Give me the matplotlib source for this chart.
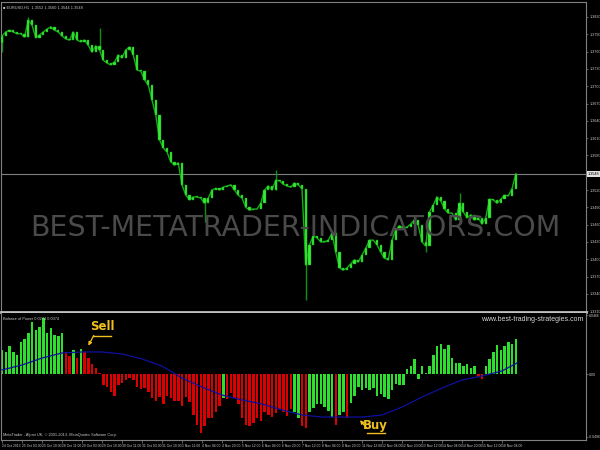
import numpy as np
import matplotlib
matplotlib.use("Agg")
import matplotlib.pyplot as plt
import matplotlib.transforms as mtransforms

# EURUSD H1, sampled every 3 hours (close of each block)
close = [
    1.3787, 1.3794, 1.3797, 1.3794, 1.3791, 1.3791, 1.3785, 1.3815, 1.3806, 1.3784,
    1.3789, 1.3794, 1.3799, 1.3803, 1.3797, 1.3794, 1.3787, 1.3782, 1.3780, 1.3794,
    1.3780, 1.3777, 1.3780, 1.3771, 1.3759, 1.3770, 1.3763, 1.3745, 1.3740, 1.3737,
    1.3742, 1.3754, 1.3749, 1.3763, 1.3768, 1.3754, 1.3728, 1.3726, 1.3711, 1.3702,
    1.3676, 1.3650, 1.3607, 1.3593, 1.3586, 1.3569, 1.3563, 1.3567, 1.3529, 1.3511,
    1.3503, 1.3508, 1.3508, 1.3506, 1.3497, 1.3506, 1.3520, 1.3523, 1.3520, 1.3525,
    1.3527, 1.3529, 1.3520, 1.3511, 1.3506, 1.3490, 1.3485, 1.3487, 1.3487, 1.3497,
    1.3520, 1.3527, 1.3520, 1.3537, 1.3536, 1.3530, 1.3527, 1.3525, 1.3532, 1.3529,
    1.3522, 1.3390, 1.3425, 1.3440, 1.3437, 1.3430, 1.3430, 1.3433, 1.3445, 1.3412,
    1.3385, 1.3381, 1.3385, 1.3392, 1.3399, 1.3395, 1.3407, 1.3419, 1.3433, 1.3433,
    1.3425, 1.3412, 1.3402, 1.3399, 1.3433, 1.3451, 1.3458, 1.3454, 1.3456, 1.3461,
    1.3468, 1.3459, 1.3430, 1.3423, 1.3482, 1.3494, 1.3508, 1.3501, 1.3487, 1.3480,
    1.3480, 1.3468, 1.3497, 1.3482, 1.3472, 1.3477, 1.3468, 1.3472, 1.3461, 1.3472,
    1.3504, 1.3503, 1.3497, 1.3504, 1.3511, 1.3510, 1.3522, 1.3548,
]
first_open = 1.3775
# long wicks (block index -> price)
wick_high = {7: 1.3820, 26: 1.3801, 73: 1.3555, 122: 1.3515}
wick_low = {0: 1.3759, 54: 1.3464, 81: 1.3329, 113: 1.3412}

# Balance of Power histogram, same 3-hour blocks
bop = [
    0.019, 0.017, 0.022, 0.017, 0.015, 0.025, 0.028, 0.032, 0.041, 0.035,
    0.037, 0.044, 0.032, 0.036, 0.031, 0.030, 0.032, 0.017, 0.014, 0.019,
    0.013, 0.020, 0.017, 0.013, 0.008, 0.005, 0.001, -0.009, -0.010, -0.014,
    -0.017, -0.009, -0.007, -0.005, -0.003, -0.005, -0.010, -0.012, -0.011, -0.014,
    -0.019, -0.021, -0.018, -0.024, -0.017, -0.019, -0.021, -0.021, -0.025, -0.018,
    -0.022, -0.032, -0.040, -0.047, -0.041, -0.035, -0.035, -0.030, -0.025, -0.019,
    -0.020, -0.015, -0.019, -0.024, -0.035, -0.040, -0.041, -0.039, -0.035, -0.037,
    -0.030, -0.032, -0.034, -0.031, -0.028, -0.030, -0.033, -0.028, -0.030, -0.035,
    -0.041, -0.043, -0.030, -0.027, -0.024, -0.024, -0.026, -0.029, -0.034, -0.040,
    -0.032, -0.030, -0.035, -0.023, -0.017, -0.010, -0.013, -0.011, -0.013, -0.011,
    -0.017, -0.016, -0.018, -0.020, -0.013, -0.008, -0.009, -0.009, 0.004, 0.006,
    0.012, -0.004, 0.006, 0.001, 0.006, 0.015, 0.022, 0.024, 0.020, 0.023,
    0.013, 0.009, 0.009, 0.006, 0.008, 0.005, 0.006, -0.002, -0.004, 0.006,
    0.012, 0.017, 0.023, 0.019, 0.022, 0.025, 0.024, 0.028,
]
bop_side = ("ggggggggggggggggg" "rr" "g" "r" "g" + "r" * 37 + "g" + "r" * 18
            + "gg" "rr" "ggggggg" "r" "gg" "r" + "g" * 34 + "rr" + "g" * 9)

# signal line, read every 16 hours
ma_hours = [0, 16, 32, 48, 64, 80, 96, 112, 128, 144, 160, 176, 192, 208,
            224, 240, 256, 272, 288, 304, 320, 336, 352, 368, 384, 400, 412]
ma = [0.0032, 0.0071, 0.0126, 0.0166, 0.0174, 0.0174, 0.0158, 0.0119, 0.0063,
      -0.0032, -0.0103, -0.0166, -0.0205, -0.0237, -0.0284, -0.0324, -0.0340,
      -0.0340, -0.0340, -0.0324, -0.0261, -0.0182, -0.0111, -0.0047, -0.0016,
      0.0024, 0.0087]

time_labels = ["24 Oct 2013", "25 Oct 03:00", "25 Oct 19:00", "28 Oct 11:00",
               "29 Oct 03:00", "29 Oct 19:00", "30 Oct 11:00", "31 Oct 03:00",
               "31 Oct 19:00", "1 Nov 11:00", "4 Nov 04:00", "4 Nov 20:00",
               "5 Nov 12:00", "6 Nov 04:00", "6 Nov 20:00", "7 Nov 12:00",
               "8 Nov 04:00", "8 Nov 20:00", "11 Nov 12:00", "12 Nov 04:00",
               "12 Nov 20:00", "13 Nov 12:00", "14 Nov 04:00", "14 Nov 20:00",
               "15 Nov 12:00", "18 Nov 04:00"]
price_ticks = [1.3820, 1.3790, 1.3760, 1.3730, 1.3700, 1.3670, 1.3640, 1.3610,
               1.3580, 1.3550, 1.3520, 1.3490, 1.3460, 1.3430, 1.3400, 1.3370,
               1.3340, 1.3310]
bop_ticks = [0.0466, 0.0, -0.0496]
bop_tick_labels = ["0.0466", "0.00", "-0.0496"]

W, H = 600, 450
GRID = "#808080"
TXT = "#c8c8c8"
SMALL = ["Liberation Sans Narrow", "Liberation Sans", "DejaVu Sans"]

fig = plt.figure(figsize=(6, 4.5), dpi=100, facecolor="black")


def px_axes(x0, y0, x1, y1):
    return fig.add_axes([x0 / W, 1 - y1 / H, (x1 - x0) / W, (y1 - y0) / H])


ax = px_axes(1, 2, 586, 312)
ax2 = px_axes(1, 313, 586, 440)

close = np.array(close)
hours = np.arange(len(close)) * 3
opens = np.r_[first_open, close[:-1]]
lo = np.minimum(opens, close)
hi = np.maximum(opens, close)

for axis in (ax, ax2):
    axis.set_facecolor("black")
    axis.set_xlim(-0.8, 467.2)
    for s in axis.spines.values():
        s.set_color(GRID)
        s.set_linewidth(0.8)

# price candles
wk = sorted(set(wick_high) | set(wick_low))
ax.vlines([hours[k] for k in wk],
          [wick_low.get(k, lo[k]) for k in wk],
          [wick_high.get(k, hi[k]) for k in wk],
          color="#109010", lw=1.0, zorder=2)
ax.plot(hours, close, color="#18b018", lw=1.0, zorder=2)
ax.bar(hours, np.maximum(hi - lo, 0.00008), bottom=lo, width=1.7,
       color="#36ec36", edgecolor="#15a015", linewidth=0.3, zorder=3)

ax.set_ylim(1.33085, 1.38460)
ax.axhline(close[-1], color=GRID, lw=0.8, zorder=1)
ax.yaxis.tick_right()
ax.set_yticks(price_ticks)
ax.set_yticklabels([f"{v:.4f}" for v in price_ticks], family=SMALL)
ax.tick_params(axis="y", colors=GRID, labelcolor=TXT, labelsize=2.7, length=1.5,
               width=0.5, pad=0.8)
ax.set_xticks([])
ax.spines["bottom"].set_color("#c0c0c0")
ax.spines["bottom"].set_linewidth(2)

ax.text(1.003, close[-1], f"{close[-1]:.4f}",
        transform=mtransforms.blended_transform_factory(ax.transAxes, ax.transData),
        fontsize=2.7, color="black", va="center", ha="left", family=SMALL,
        bbox=dict(boxstyle="square,pad=0.2", fc="#e0e0e0", ec="none"))
ax.text(0.004, 0.988, "\u25a0 EURUSD,H1  1.3552 1.3560 1.3544 1.3548",
        transform=ax.transAxes, fontsize=2.8, color=TXT, va="top", ha="left",
        family=SMALL)

# Balance of Power pane
cols = ["#2ee02e" if c == "g" else "#dd0000" for c in bop_side]
ax2.bar(hours, bop, width=2.0, color=cols, linewidth=0, zorder=2)
ax2.plot(ma_hours, ma, color="#1010a0", lw=0.9, zorder=3)
ax2.set_ylim(-0.05214, 0.04819)
ax2.yaxis.tick_right()
ax2.set_yticks(bop_ticks)
ax2.set_yticklabels(bop_tick_labels, family=SMALL)
ax2.tick_params(axis="y", colors=GRID, labelcolor=TXT, labelsize=2.5, length=1.5,
                width=0.5, pad=0.6)
ax2.set_xticks(np.arange(len(time_labels)) * 16)
ax2.set_xticklabels(time_labels, ha="left", family=SMALL)
ax2.tick_params(axis="x", colors=GRID, labelcolor=TXT, labelsize=2.4, length=2,
                width=0.5, pad=1)
ax2.spines["top"].set_visible(False)

ax2.text(0.003, 0.965, "Balance of Power 0.0274 0.0074", transform=ax2.transAxes,
         fontsize=2.8, color=TXT, va="top", ha="left", family=SMALL)
ax2.text(0.003, 0.02, "MetaTrader - Alpari UK, \u00a9 2001-2013, MetaQuotes Software Corp.",
         transform=ax2.transAxes, fontsize=2.8, color=TXT, va="bottom", ha="left",
         family=SMALL)
ax2.text(0.995, 0.945, "www.best-trading-strategies.com", transform=ax2.transAxes,
         fontsize=5, color="#d8d8d8", va="center", ha="right", family=SMALL)

gold = "#f0c020"
ann = dict(color=gold, fontsize=8.5, fontweight="bold",
           family=["Liberation Sans Narrow", "DejaVu Sans"])
ax2.annotate("", xy=(68, 0.0205), xytext=(74.5, 0.0324),
             arrowprops=dict(arrowstyle="-|>", color=gold, lw=0.9, mutation_scale=5))
ax2.text(80, 0.0375, "Sell", ha="center", va="center", **ann)
ax2.plot([73, 87], [0.0300, 0.0300], color=gold, lw=1)
ax2.annotate("", xy=(285, -0.0348), xytext=(293, -0.0442),
             arrowprops=dict(arrowstyle="-|>", color=gold, lw=0.9, mutation_scale=5))
ax2.text(298.5, -0.0405, "Buy", ha="center", va="center", **ann)
ax2.plot([292, 306], [-0.0465, -0.0465], color=gold, lw=1)

fig.text(295 / W, 1 - 228 / H, "BEST-METATRADER-INDICATORS.COM", ha="center",
         va="center", fontsize=20.5, color="#4a4a4a")

fig.savefig("out.png", dpi=100, facecolor="black")
